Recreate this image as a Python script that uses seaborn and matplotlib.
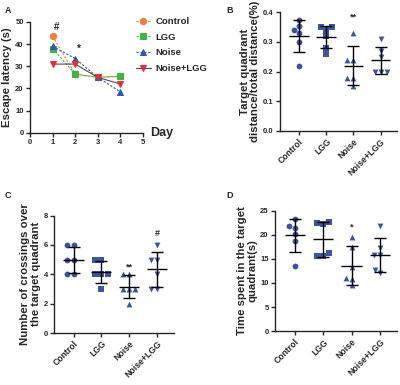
import numpy as np
import pandas as pd
import matplotlib
matplotlib.use('Agg')
import matplotlib.pyplot as plt
import seaborn as sns

# Data
groups = ['Control', 'LGG', 'Noise', 'Noise+LGG']
days = [1, 2, 3, 4]
latency_control = [43.5, 26.5, 25.0, 25.5]
latency_lgg = [38.0, 26.5, 25.0, 25.5]
latency_noise = [39.0, 33.5, 25.0, 18.5]
latency_noise_lgg = [31.0, 31.0, 25.0, 22.0]

dist_control = [0.375, 0.355, 0.34, 0.33, 0.30, 0.22]
dist_lgg = [0.35, 0.35, 0.34, 0.32, 0.28, 0.26]
dist_noise = [0.33, 0.24, 0.24, 0.18, 0.18, 0.15]
dist_noise_lgg = [0.31, 0.27, 0.25, 0.20, 0.20, 0.20]

cross_control = [6, 6, 5, 5, 4, 4]
cross_lgg = [5, 5, 4, 4, 4, 3]
cross_noise = [4, 4, 3, 3, 3, 2]
cross_noise_lgg = [6, 5, 5, 4, 3, 3]

time_control = [23.3, 21.9, 21.5, 20.1, 18.8, 13.6]
time_lgg = [22.6, 22.4, 22.3, 16.2, 15.6, 15.6]
time_noise = [19.5, 17.5, 13.3, 11.0, 10.8, 9.5]
time_noise_lgg = [21.8, 17.2, 15.9, 15.8, 12.7, 12.0]

sns.set_style('ticks')
plt.rcParams['font.family'] = ['Liberation Sans', 'DejaVu Sans']
plt.rcParams['font.weight'] = 'bold'
plt.rcParams['axes.labelweight'] = 'bold'
plt.rcParams['axes.linewidth'] = 1.0
plt.rcParams['xtick.major.width'] = 1.0
plt.rcParams['ytick.major.width'] = 1.0
plt.rcParams['xtick.major.size'] = 3
plt.rcParams['ytick.major.size'] = 3
plt.rcParams['xtick.major.pad'] = 1.5
plt.rcParams['ytick.major.pad'] = 1.5

fig = plt.figure(figsize=(4, 3.85), dpi=100)

# ---- Panel A: escape latency over days
ax_a = fig.add_axes([0.075, 0.655, 0.2825, 0.288])
line_styles = {
    'Control': dict(color='#F07D3A', marker='o', ls=(0, (2, 1.5)), lc='#F07D3A'),
    'LGG': dict(color='#3DB54A', marker='s', ls=(0, (2, 1.5)), lc='#3DB54A'),
    'Noise': dict(color='#2F5BA8', marker='^', ls=(0, (2, 1.5)), lc='#2F5BA8'),
    'Noise+LGG': dict(color='#E0303C', marker='v', ls='-', lc='#6A4048'),
}
latency = {'Control': latency_control, 'LGG': latency_lgg,
           'Noise': latency_noise, 'Noise+LGG': latency_noise_lgg}
for g in groups:
    st = line_styles[g]
    sns.lineplot(x=days, y=latency[g], ax=ax_a, color=st['lc'], linestyle=st['ls'],
                 linewidth=0.8, marker=st['marker'], markersize=4.5,
                 markerfacecolor=st['color'], markeredgecolor=st['color'], label=g)
ax_a.set_xlim(0, 5)
ax_a.set_ylim(0, 50)
ax_a.set_xticks([0, 1, 2, 3, 4, 5])
ax_a.set_yticks([0, 10, 20, 30, 40, 50])
ax_a.tick_params(labelsize=5.5)
ax_a.set_ylabel('Escape latency (s)', fontsize=8.2, labelpad=2)
ax_a.set_xlabel('')
ax_a.text(1.06, 0.0, 'Day', transform=ax_a.transAxes, fontsize=9, fontweight='bold',
          va='center', ha='left')
ax_a.text(1.18, 46.5, '#', fontsize=7, fontweight='bold', ha='center')
ax_a.text(2.17, 36.5, '*', fontsize=7, fontweight='bold', ha='center')
ax_a.legend(loc='upper left', bbox_to_anchor=(0.86, 1.12), frameon=False,
            fontsize=6.8, handlelength=1.6, labelspacing=0.7, handletextpad=0.5)
sns.despine(ax=ax_a)


def dot_panel(ax, values, ylim, yticks, ylabel, marks):
    df = pd.DataFrame({'group': np.repeat(groups, 6),
                       'value': np.concatenate(values)})
    markers = ['o', 's', '^', 'v']
    for i, g in enumerate(groups):
        sub = df[df['group'] == g].copy()
        sns.swarmplot(data=sub, x='group', y='value', order=groups, ax=ax,
                      color='#3B55A4', marker=markers[i], size=4.2, linewidth=0)
    means = df.groupby('group', sort=False)['value'].mean().values
    sds = df.groupby('group', sort=False)['value'].std().values
    xs = np.arange(len(groups))
    ax.errorbar(xs, means, yerr=sds, fmt='none', ecolor='black', elinewidth=1.0,
                capsize=4, capthick=1.0, zorder=5)
    ax.hlines(means, xs - 0.36, xs + 0.36, color='black', linewidth=1.0, zorder=5)
    ax.set_xlim(-0.7, 3.6)
    ax.set_ylim(*ylim)
    ax.set_yticks(yticks)
    ax.set_xlabel('')
    ax.set_ylabel(ylabel, fontsize=8.2, labelpad=2, linespacing=1.1)
    ax.tick_params(axis='y', labelsize=5.5)
    ax.tick_params(axis='x', labelsize=6.2)
    for lab in ax.get_xticklabels():
        lab.set_rotation(45)
        lab.set_ha('right')
        lab.set_rotation_mode('anchor')
        lab.set_fontweight('bold')
    for gx, gy, txt in marks:
        ax.text(gx, gy, txt, fontsize=6.5, fontweight='bold', ha='center')
    sns.despine(ax=ax)


# ---- Panel B
ax_b = fig.add_axes([0.70, 0.66, 0.2925, 0.308])
dot_panel(ax_b, [dist_control, dist_lgg, dist_noise, dist_noise_lgg], (0, 0.4),
          [0.0, 0.1, 0.2, 0.3, 0.4],
          'Target quadrant\ndistance/total distance(%)', [(2, 0.375, '**')])
ax_b.set_yticklabels(['0.0', '0.1', '0.2', '0.3', '0.4'])

# ---- Panel C
ax_c = fig.add_axes([0.135, 0.135, 0.30, 0.305])
dot_panel(ax_c, [cross_control, cross_lgg, cross_noise, cross_noise_lgg], (0, 8),
          [0, 2, 4, 6, 8],
          'Number of crossings over\nthe target quadrant', [(2, 4.3, '**'), (3, 6.6, '#')])

# ---- Panel D
ax_d = fig.add_axes([0.6875, 0.14, 0.305, 0.3125])
dot_panel(ax_d, [time_control, time_lgg, time_noise, time_noise_lgg], (0, 25),
          [0, 5, 10, 15, 20, 25],
          'Time spent in the target\nquadrant(s)', [(2, 21.0, '*')])

for x, y, t in [(0.012, 0.985, 'A'), (0.565, 0.985, 'B'), (0.012, 0.505, 'C'), (0.565, 0.505, 'D')]:
    fig.text(x, y, t, fontsize=6.5, fontweight='bold', va='top')

fig.savefig('out.png', dpi=100)
